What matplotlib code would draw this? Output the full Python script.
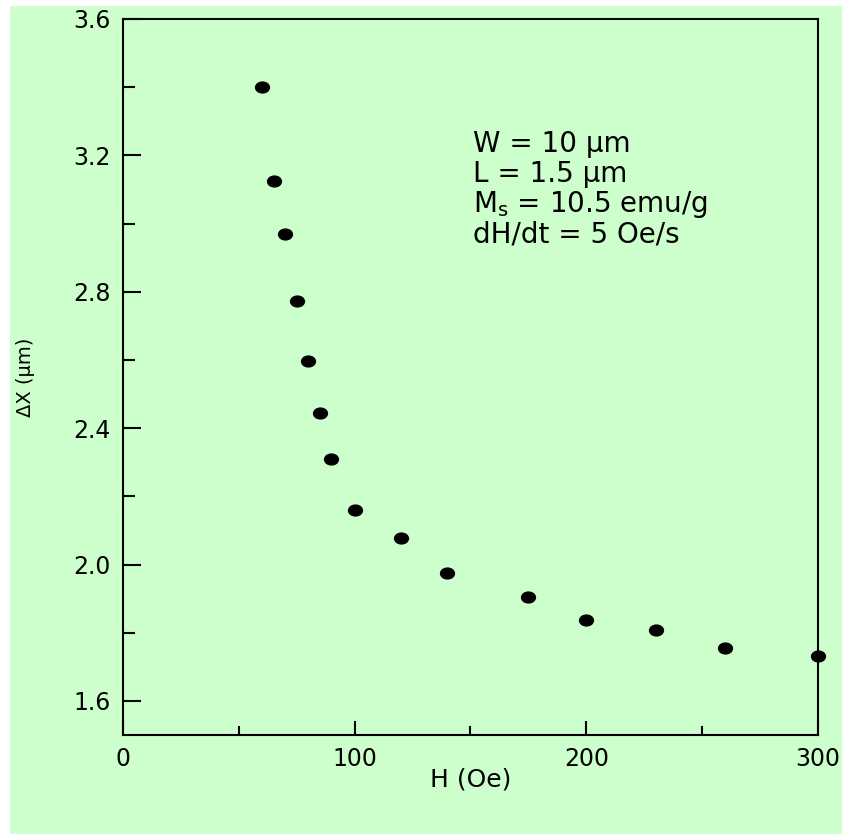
import numpy as np
import matplotlib
matplotlib.use("Agg")
import matplotlib.pyplot as plt
from matplotlib.path import Path
from matplotlib.patches import Rectangle
from matplotlib.ticker import MultipleLocator

# field H (Oe) vs domain wall displacement dX (um)
H = [60, 65, 70, 75, 80, 85, 90, 100, 120, 140, 175, 200, 230, 260, 300]
dX = [3.40, 3.126, 2.969, 2.772, 2.598, 2.445, 2.310, 2.159, 2.078,
      1.974, 1.904, 1.838, 1.807, 1.756, 1.732]

notes = ["W = 10 \u03bcm",
         "L = 1.5 \u03bcm",
         "M$_\\mathrm{s}$ = 10.5 emu/g",
         "dH/dt = 5 Oe/s"]

green = "#ccffcc"

fig = plt.figure(figsize=(8.42, 8.34), dpi=100, facecolor="white")
# green panel, with a thin white strip at top/left like the original
fig.patches.append(Rectangle((10 / 842, 0), 1, 1 - 6 / 834, transform=fig.transFigure,
                             facecolor=green, edgecolor="none", zorder=-5))

ax = fig.add_axes([123 / 842, 1 - 735 / 834, 695 / 842, 716 / 834])
ax.set_zorder(2)
ax.set_facecolor(green)

# slightly flattened dots
circ = Path.unit_circle()
ell = Path(circ.vertices * np.array([1.0, 0.78]), circ.codes)
ax.plot(H, dX, ls="none", marker=ell, ms=10, color="black", clip_on=False, zorder=3)

ax.set_xlim(0, 300)
ax.set_ylim(1.5, 3.6)
ax.xaxis.set_major_locator(MultipleLocator(100))
ax.xaxis.set_minor_locator(MultipleLocator(50))
ax.set_yticks([1.6, 2.0, 2.4, 2.8, 3.2, 3.6])
ax.yaxis.set_minor_locator(MultipleLocator(0.2))

for sp in ax.spines.values():
    sp.set_linewidth(1.5)

ax.tick_params(axis="both", which="both", direction="in", width=1.5,
               top=False, right=False, labelsize=17, pad=9)
ax.tick_params(axis="x", which="major", length=10)
ax.tick_params(axis="x", which="minor", length=6.5)
ax.tick_params(axis="y", which="major", length=13)
ax.tick_params(axis="y", which="minor", length=8.5)

ax.set_xlabel("H (Oe)", fontsize=18)
ax.xaxis.set_label_coords(0.5, -0.046)
ax.set_ylabel("\u0394X (\u03bcm)", fontsize=14)
ax.yaxis.label.set_va("center")
ax.yaxis.set_label_coords(-0.141, 0.5)

ys = [0.8142, 0.7723, 0.7304, 0.6885]
for s, y in zip(notes, ys):
    ax.text(0.503, y, s, transform=ax.transAxes, fontsize=20, va="baseline", ha="left")

fig.savefig("out.png", dpi=100, facecolor=fig.get_facecolor())
